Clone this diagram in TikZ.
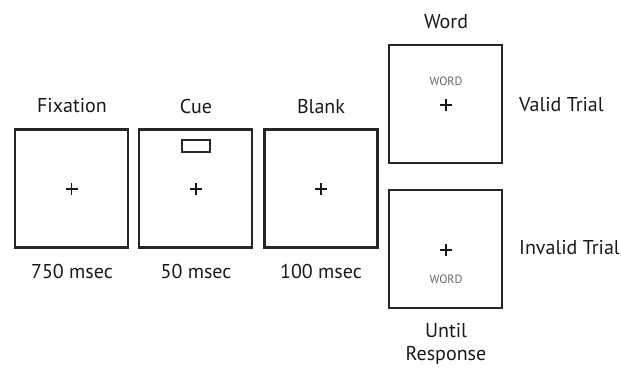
\documentclass[tikz,border=0pt]{standalone}
\usepackage{fontspec}
\setmainfont{PT Sans}
\begin{document}
\begin{tikzpicture}[x=1pt,y=-1pt,
  screen/.style={draw=black!85, line width=2.6pt, minimum width=113pt, minimum height=118pt, inner sep=0pt},
  lbl/.style={font=\fontsize{20}{22}\selectfont, text=black!90, inner sep=0pt},
  wordtxt/.style={font=\fontsize{12}{12}\selectfont, text=black!60, inner sep=0pt},
  crossmark/.pic={\draw[line width=1.7pt, black!90] (-6,0) -- (6,0) (0,-6) -- (0,6);}]
\useasboundingbox (0,0) rectangle (621,367);

% the five display screens
\node[screen] (fixation) at (71.5,188.5) {};
\node[screen] (cue)      at (195.5,188.5) {};
\node[screen] (blank)    at (321,188.5) {};
\node[screen] (valid)    at (445.5,104) {};
\node[screen] (invalid)  at (445.5,249) {};

% fixation crosses
\pic at (71.5,189) {crossmark};
\pic at (196,189) {crossmark};
\pic at (321,189) {crossmark};
\pic at (446,105) {crossmark};
\pic at (446,250) {crossmark};

% cue box
\node[draw=black!85, line width=2pt, minimum width=28pt, minimum height=12pt, inner sep=0pt] (cuebox) at (196,146) {};

% target words
\node[wordtxt] (w1) at (446,81) {WORD};
\node[wordtxt] (w2) at (446,279) {WORD};

% labels above
\node[lbl] (lfix)   at (72,106) {Fixation};
\node[lbl] (lcue)   at (196,106) {Cue};
\node[lbl] (lblank) at (321,107) {Blank};
\node[lbl] (lword)  at (446,22) {Word};

% durations below
\node[lbl] (d1) at (72,271) {750 msec};
\node[lbl] (d2) at (196,271) {50 msec};
\node[lbl] (d3) at (321,271) {100 msec};
\node[lbl, align=center] (d4) at (446,344) {Until\\[1pt]Response};

% trial types
\node[lbl, anchor=west] (tv) at (519,105) {Valid Trial};
\node[lbl, anchor=west] (ti) at (519,248) {Invalid Trial};
\end{tikzpicture}
\end{document}
